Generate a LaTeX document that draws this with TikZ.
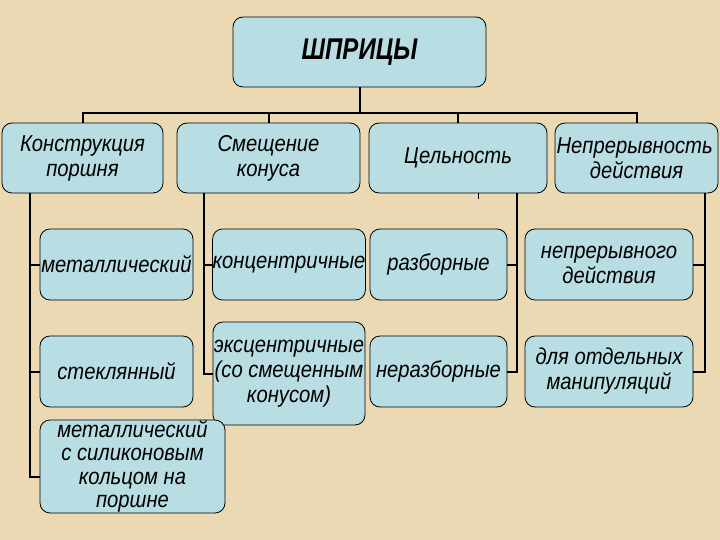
\documentclass[tikz,border=0pt]{standalone}
\usepackage{fontspec}
\setmainfont{Liberation Sans}
\newfontfamily\boxfont[FakeStretch=0.88]{Liberation Sans}
\newfontfamily\topfont[FakeStretch=0.8]{Liberation Sans}
\begin{document}
\begin{tikzpicture}[x=1pt,y=-1pt,
  box/.style={draw=black,line width=0.8pt,fill=boxblue,rounded corners=10pt,
    align=center,inner sep=0pt,font=\boxfont\fontsize{23}{25}\selectfont\itshape},
  conn/.style={draw=black,line width=2pt}]
\definecolor{boxblue}{RGB}{184,221,226}
\definecolor{bg}{RGB}{234,217,178}
\fill[bg] (0,0) rectangle (720,540);
\useasboundingbox (0,0) rectangle (720,540);
% top
\node[box,minimum width=253pt,minimum height=70pt,font=\topfont\fontsize{30}{32}\selectfont\bfseries\itshape] (top) at (359.5,52) {ШПРИЦЫ};
% row 2
\node[box,minimum width=161pt,minimum height=70pt] (k1) at (82.5,158) {Конструкция\\поршня};
\node[box,minimum width=183pt,minimum height=70pt] (k2) at (268.5,158) {Смещение\\конуса};
\node[box,minimum width=178pt,minimum height=70pt] (k3) at (458,158) {Цельность};
\node[box,minimum width=163pt,minimum height=70pt] (k4) at (636.5,158) {\makebox[160pt][l]{Непрерывность}\\действия};
% row 3
\node[box,minimum width=153pt,minimum height=71pt] (m1) at (116.5,264.5) {металлический};
\node[box,minimum width=152pt,minimum height=71pt] (c1) at (289,264.5) {концентричные};
\node[box,minimum width=137pt,minimum height=71pt] (r1) at (438.5,264.5) {разборные};
\node[box,minimum width=168pt,minimum height=71pt] (n1) at (609,264.5) {непрерывного\\действия};
% row 4
\node[box,minimum width=153pt,minimum height=71pt] (s1) at (116.5,371.5) {стеклянный};
\node[box,minimum width=152pt,minimum height=103pt] (e1) at (289,373.5) {эксцентричные\\(со смещенным\\конусом)};
\node[box,minimum width=137pt,minimum height=71pt] (r2) at (438.5,371.5) {неразборные};
\node[box,minimum width=168pt,minimum height=71pt] (n2) at (609,371.5) {для отдельных\\манипуляций};
% row 5
\node[box,minimum width=185pt,minimum height=93pt,font=\boxfont\fontsize{23}{23.5}\selectfont\itshape] (m2) at (132.5,466.5) {металлический\\с силиконовым\\кольцом на\\поршне};
% connectors
\coordinate (bus) at (0,113);
\coordinate (sp1) at (30,0);
\coordinate (sp2) at (204,0);
\coordinate (sp3) at (517,0);
\coordinate (sp4) at (705,0);
\coordinate (tick) at (478,0);
\draw[conn] (top.south) -- (top.south |- bus);
\draw[conn] (k1.north) -- (k1.north |- bus) -- (k4.north |- bus) -- (k4.north);
\draw[conn] (k2.north) -- (k2.north |- bus);
\draw[conn] (k3.north) -- (k3.north |- bus);
\draw[conn] (sp1 |- k1.south) -- (sp1 |- 0,477) -- (m2.west |- 0,477);
\draw[conn] (sp1 |- m1.west) -- (m1.west);
\draw[conn] (sp1 |- s1.west) -- (s1.west);
\draw[conn] (sp2 |- k2.south) -- (sp2 |- e1.west) -- (e1.west);
\draw[conn] (sp2 |- c1.west) -- (c1.west);
\draw[conn] (sp3 |- k3.south) -- (sp3 |- r2.east) -- (r2.east);
\draw[conn] (sp3 |- r1.east) -- (r1.east);
\draw[conn] (sp4 |- k4.south) -- (sp4 |- n2.east) -- (n2.east);
\draw[conn] (sp4 |- n1.east) -- (n1.east);
\draw[line width=1pt] (tick |- k3.south) -- ++(0,6);
\end{tikzpicture}
\end{document}
